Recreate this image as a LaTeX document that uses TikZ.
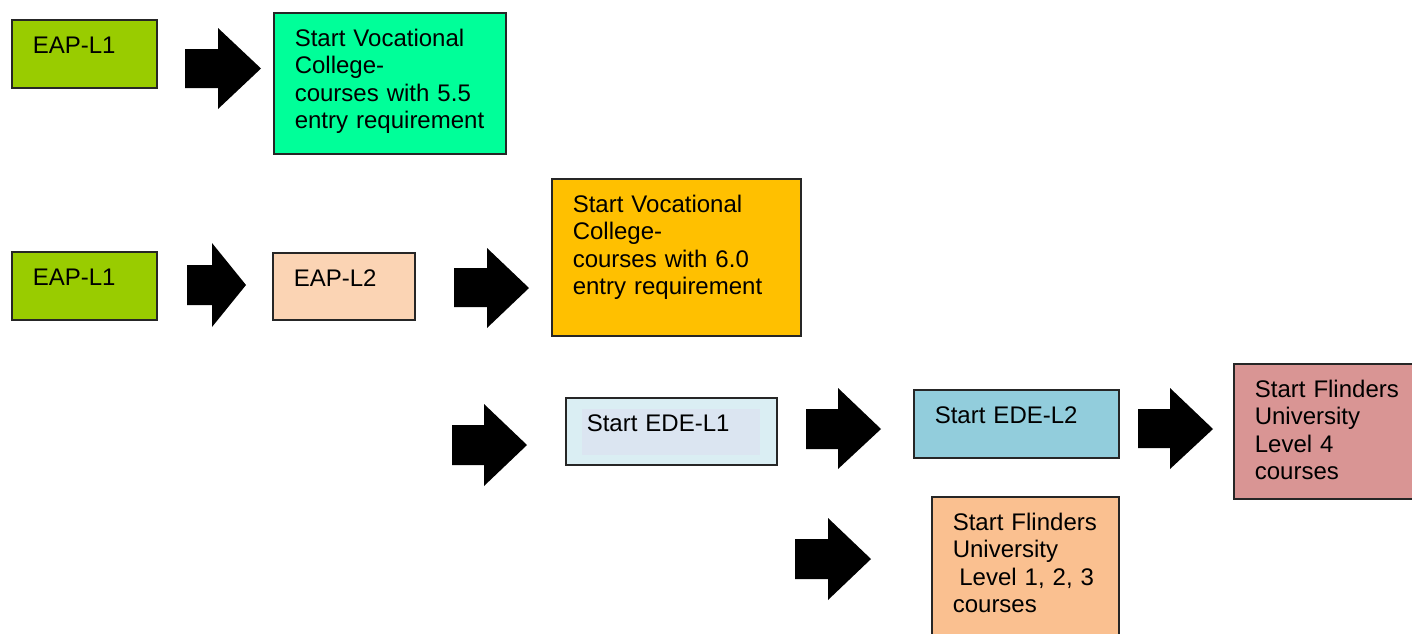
\documentclass[tikz,border=0pt]{standalone}
\usepackage{fontspec}
\setmainfont{Liberation Sans}
\usetikzlibrary{calc}
\definecolor{eapgreen}{HTML}{99CC00}
\definecolor{vocgreen}{HTML}{00FF99}
\definecolor{peach}{HTML}{FBD4B4}
\definecolor{vocorange}{HTML}{FFC000}
\definecolor{edeone}{HTML}{DAEEF3}
\definecolor{edeoneinner}{HTML}{DBE5F1}
\definecolor{edetwo}{HTML}{92CDDC}
\definecolor{flindred}{HTML}{D99594}
\definecolor{flindorange}{HTML}{FAC090}
\tikzset{
  box/.style={draw=black!85, line width=1.6pt, anchor=north west, inner ysep=0pt, inner xsep=21pt,
    align=left, font=\fontsize{24}{27.4}\selectfont, text height=33.5pt},
  blockarrow/.style={fill=black},
}
% xs, xh, xt, shaft top, shaft bottom, head top, head bottom, tip y
\newcommand{\blockarr}[8]{\fill[blockarrow] (#1,#4) -- (#2,#4) -- (#2,#6) -- (#3,#8) -- (#2,#7) -- (#2,#5) -- (#1,#5) -- cycle;}
\begin{document}
\begin{tikzpicture}[x=1pt,y=-1pt]
\clip (0,0) rectangle (1412,633);
\fill[white] (0,0) rectangle (1412,633);
% row 1
\node[box, fill=eapgreen, text width=103pt, text depth=34.5pt] (a1) at (11,19) {EAP-L1};
\node[box, fill=vocgreen, text width=190pt, text depth=107.5pt] (b1) at (273,12)
  {Start~Vocational\\College-\\courses~with~5.5\\entry~requirement};
\blockarr{185}{218}{261}{49}{88}{28}{109}{68.5}
% row 2
\node[box, fill=eapgreen, text width=103pt, text depth=34.5pt] (a2) at (11,251) {EAP-L1};
\node[box, fill=peach, text width=100pt, text depth=33.5pt] (b2) at (272,252) {EAP-L2};
\node[box, fill=vocorange, text width=207pt, text depth=123.5pt] (c) at (551,178)
  {Start~Vocational\\College-\\courses~with~6.0\\entry~requirement};
\blockarr{187}{212}{246}{265}{305}{243}{327}{285}
\blockarr{454}{487}{529}{268}{307}{248}{328}{288}
% row 3
\node[box, fill=edeone, text width=169pt, text depth=33.5pt,
  path picture={\fill[edeoneinner] ($(path picture bounding box.north west)+(16,11)$) rectangle ++(178,46);}]
  (d) at (565,397) {Start~EDE-L1};
\node[box, fill=edetwo, text width=163pt, text depth=34.5pt] (e) at (913,389) {Start~EDE-L2};
\node[box, fill=flindred, text width=143pt, text depth=101.5pt] (f) at (1233,363)
  {Start~Flinders\\University\\Level~4\\courses};
\node[box, fill=flindorange, text width=145pt, text depth=116.5pt] (g) at (931,496)
  {Start~Flinders\\University\\\hspace*{6.5pt}Level~1,~2,~3\\courses};
\blockarr{452}{484}{527}{425}{465}{404}{486}{445}
\blockarr{806}{838}{881}{409}{449}{388}{469}{429}
\blockarr{1138}{1170}{1213}{409}{448}{388}{469}{429}
\blockarr{795}{828}{871}{539}{579}{518}{600}{559}
\end{tikzpicture}
\end{document}
